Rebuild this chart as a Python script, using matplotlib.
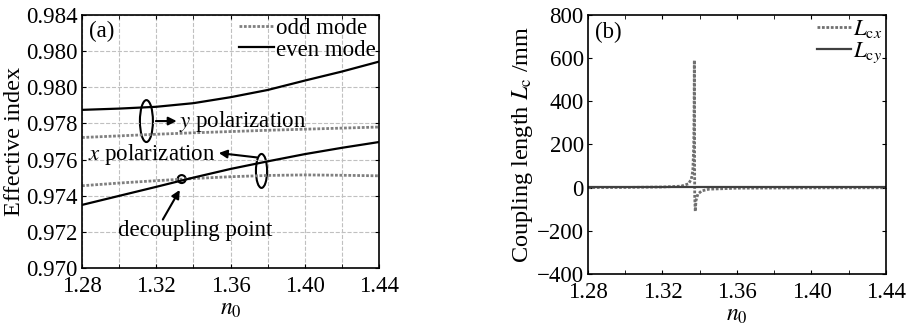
import numpy as np
import matplotlib
matplotlib.use('Agg')
import matplotlib.pyplot as plt
import matplotlib.patches as patches
from matplotlib.ticker import MultipleLocator

plt.rcParams['font.family'] = ['Liberation Serif', 'DejaVu Serif']
plt.rcParams['mathtext.fontset'] = 'stix'
plt.rcParams['font.size'] = 16.5

# panel (a): effective index vs n0
n0 = [1.28, 1.30, 1.32, 1.34, 1.36, 1.38, 1.40, 1.42, 1.44]
even_y = [0.97875, 0.97882, 0.97892, 0.97912, 0.97945, 0.97985, 0.98037, 0.98087, 0.98142]
odd_y = [0.97722, 0.97731, 0.97740, 0.97748, 0.97755, 0.97762, 0.97768, 0.97774, 0.97780]
even_x = [0.97349, 0.97399, 0.97449, 0.97500, 0.97548, 0.97590, 0.97630, 0.97665, 0.97697]
odd_x = [0.97455, 0.97470, 0.97483, 0.97495, 0.97505, 0.97512, 0.97515, 0.97513, 0.97510]
yticks_a = [0.970, 0.972, 0.974, 0.976, 0.978, 0.980, 0.982, 0.984]
ylabels_a = ['0.970', '0.972', '0.974', '0.976', '0.978', '0.980', '0.980', '0.984']

# panel (b): coupling length vs n0
n0_b = [1.28, 1.30, 1.32, 1.33, 1.334, 1.3355, 1.3363, 1.3368, 1.3370, 1.3371,
        1.3373, 1.3376, 1.3380, 1.3390, 1.3410, 1.345, 1.36, 1.40, 1.44]
lcx = [0.5, 1.0, 3.0, 7.0, 18, 40, 80, 200, 400, 590,
       -40, -110, -60, -30, -15, -7, -2.5, -1.0, -0.5]
lcy = [0.8, 0.8, 0.8, 0.8, 0.8, 0.8, 0.8, 0.8, 0.8, 0.8,
       0.8, 0.8, 0.8, 0.8, 0.8, 0.8, 0.8, 0.8, 0.8]

fig = plt.figure(figsize=(9.12, 3.26), dpi=100)
ax1 = fig.add_axes([0.0899, 0.178, 0.3257, 0.776])
ax2 = fig.add_axes([0.6447, 0.1595, 0.3268, 0.7945])

dot = (0, (1, 0.6))
ax1.plot(n0, odd_y, color='#808080', lw=2, ls=dot, label='odd mode')
ax1.plot(n0, even_y, color='black', lw=1.6, label='even mode')
ax1.plot(n0, odd_x, color='#808080', lw=2, ls=dot)
ax1.plot(n0, even_x, color='black', lw=1.6)

ax1.set_xlim(1.28, 1.44)
ax1.set_ylim(0.970, 0.984)
ax1.set_xticks([1.28, 1.32, 1.36, 1.40, 1.44])
ax1.set_xticklabels(['1.28', '1.32', '1.36', '1.40', '1.44'])
ax1.xaxis.set_minor_locator(MultipleLocator(0.02))
ax1.set_yticks(yticks_a)
ax1.set_yticklabels(ylabels_a)
ax1.grid(True, which='both', color='#c0c0c0', ls='--', lw=0.8)
ax1.set_xlabel(r'$n_0$', labelpad=1, fontsize=17)
ax1.set_ylabel('Effective index', labelpad=1, fontsize=17.5)
ax1.text(0.025, 0.975, '(a)', transform=ax1.transAxes, va='top')
ax1.legend(loc='upper right', frameon=False, handlelength=1.5, handletextpad=0.1,
           borderaxespad=0.05, labelspacing=0.0, borderpad=0.1)

# annotations
ax1.add_patch(patches.Ellipse((1.3147, 0.97813), 0.007, 0.00232, fill=False, lw=1.5, color='black'))
ax1.annotate('', xy=(1.3325, 0.97813), xytext=(1.3183, 0.97813),
             arrowprops=dict(arrowstyle='-|>', color='black', lw=1.5, mutation_scale=12))
ax1.text(1.3325, 0.9781, r'$y$ polarization', va='center', ha='left')

ax1.add_patch(patches.Ellipse((1.3767, 0.97537), 0.006, 0.00188, fill=False, lw=1.5, color='black'))
ax1.annotate('', xy=(1.3522, 0.97638), xytext=(1.3757, 0.9761),
             arrowprops=dict(arrowstyle='-|>', color='black', lw=1.5, mutation_scale=12))
ax1.text(1.3518, 0.9763, r'$x$ polarization', va='center', ha='right')

ax1.add_patch(patches.Ellipse((1.3337, 0.97492), 0.0043, 0.00044, fill=False, lw=1.5, color='black'))
ax1.annotate('', xy=(1.3334, 0.97445), xytext=(1.3228, 0.97255),
             arrowprops=dict(arrowstyle='-|>', color='black', lw=1.5, mutation_scale=12))
ax1.text(1.3409, 0.9721, 'decoupling point', va='center', ha='center')

ax2.plot(n0_b, lcx, color='#707070', lw=2, ls=dot, label=r'$L_{\mathrm{c}x}$')
ax2.plot(n0_b, lcy, color='#404040', lw=1.6, label=r'$L_{\mathrm{c}y}$')
ax2.set_xlim(1.28, 1.44)
ax2.set_ylim(-400, 800)
ax2.set_xticks([1.28, 1.32, 1.36, 1.40, 1.44])
ax2.set_xticklabels(['1.28', '1.32', '1.36', '1.40', '1.44'])
ax2.xaxis.set_minor_locator(MultipleLocator(0.02))
ax2.set_yticks([-400, -200, 0, 200, 400, 600, 800])
ax2.set_yticklabels(['\u2212400', '\u2212200', '0', '200', '400', '600', '800'])
ax2.set_xlabel(r'$n_0$', labelpad=1, fontsize=17)
ax2.set_ylabel(r'Coupling length $L_{\mathrm{c}}$ /mm', labelpad=1, fontsize=17.5)
ax2.text(0.025, 0.975, '(b)', transform=ax2.transAxes, va='top')
ax2.legend(loc='upper right', frameon=False, handlelength=1.5, handletextpad=0.1,
           borderaxespad=0.05, labelspacing=0.0, borderpad=0.1)

for ax in (ax1, ax2):
    ax.tick_params(which='both', direction='in', top=True, right=True, length=3)
    ax.tick_params(axis='x', pad=6)
    ax.tick_params(axis='y', pad=3)
    for s in ax.spines.values():
        s.set_linewidth(1.2)

fig.savefig('out.png', dpi=100)
